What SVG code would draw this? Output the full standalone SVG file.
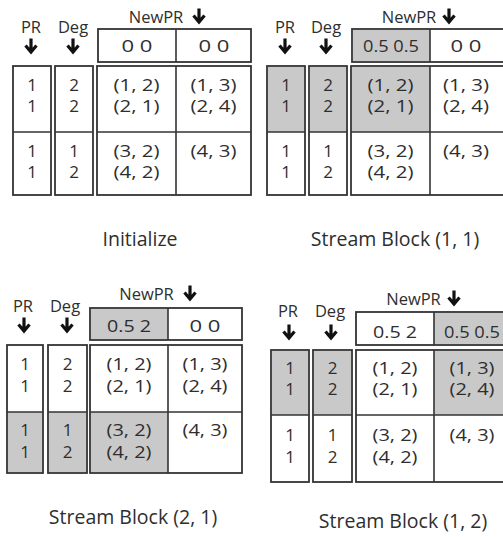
<svg xmlns="http://www.w3.org/2000/svg" xmlns:xlink="http://www.w3.org/1999/xlink" width="503" height="537" viewBox="0 0 503 537">
<style>
text{font-family:"Open Sans","Liberation Sans",sans-serif;fill:#2e2e2e;text-anchor:middle}
.lbl{font-size:16.5px}
.cell{font-size:17px}
.cap{font-size:19.5px}
.box{fill:#fff;stroke:#333;stroke-width:1.8}
.g{fill:#c9c9c9;stroke:none}
.div{stroke:#333;stroke-width:1.6;fill:none}
</style>
<defs>
<g id="arr"><path d="M0,-7.5V5.5M-5.5,-0.5L0,6L5.5,-0.5" fill="none" stroke="#111" stroke-width="3.2"/></g>
</defs>
<rect width="503" height="537" fill="#fff"/>

<g id="panel-initialize">
  <g id="p1-labels">
    <text class="lbl" x="31" y="33">PR</text><use xlink:href="#arr" x="31" y="46"/>
    <text class="lbl" x="73" y="33">Deg</text><use xlink:href="#arr" x="73" y="46"/>
    <text class="lbl" x="156" y="23">NewPR</text><use xlink:href="#arr" x="199" y="16"/>
  </g>
  <g id="p1-newpr">
    <rect class="box" x="98" y="29" width="153" height="33"/>
    <line class="div" x1="176" y1="29" x2="176" y2="62"/>
    <text class="cell" x="137" y="52" textLength="31" lengthAdjust="spacingAndGlyphs">0 0</text>
    <text class="cell" x="214" y="52" textLength="31" lengthAdjust="spacingAndGlyphs">0 0</text>
  </g>
  <g id="p1-pr">
    <rect class="box" x="13" y="66" width="38" height="129"/>
    <line class="div" x1="13" y1="132" x2="51" y2="132"/>
    <text class="cell" x="32" y="91">1</text><text class="cell" x="32" y="112">1</text>
    <text class="cell" x="32" y="157">1</text><text class="cell" x="32" y="178">1</text>
  </g>
  <g id="p1-deg">
    <rect class="box" x="55" y="66" width="38" height="129"/>
    <line class="div" x1="55" y1="132" x2="93" y2="132"/>
    <text class="cell" x="74" y="91">2</text><text class="cell" x="74" y="112">2</text>
    <text class="cell" x="74" y="157">1</text><text class="cell" x="74" y="178">2</text>
  </g>
  <g id="p1-edges">
    <rect class="box" x="97" y="66" width="154" height="129"/>
    <line class="div" x1="176" y1="66" x2="176" y2="195"/>
    <line class="div" x1="97" y1="132" x2="251" y2="132"/>
    <text class="cell" x="136.5" y="91" textLength="46" lengthAdjust="spacingAndGlyphs">(1, 2)</text>
    <text class="cell" x="136.5" y="112" textLength="46" lengthAdjust="spacingAndGlyphs">(2, 1)</text>
    <text class="cell" x="213.5" y="91" textLength="46" lengthAdjust="spacingAndGlyphs">(1, 3)</text>
    <text class="cell" x="213.5" y="112" textLength="46" lengthAdjust="spacingAndGlyphs">(2, 4)</text>
    <text class="cell" x="136.5" y="157" textLength="46" lengthAdjust="spacingAndGlyphs">(3, 2)</text>
    <text class="cell" x="136.5" y="178" textLength="46" lengthAdjust="spacingAndGlyphs">(4, 2)</text>
    <text class="cell" x="213.5" y="157" textLength="46" lengthAdjust="spacingAndGlyphs">(4, 3)</text>
  </g>
  <text class="cap" x="140" y="246">Initialize</text>
</g>

<g id="panel-block-1-1">
  <g id="p2-labels">
    <text class="lbl" x="285" y="33">PR</text><use xlink:href="#arr" x="285" y="46"/>
    <text class="lbl" x="326" y="33">Deg</text><use xlink:href="#arr" x="326" y="46"/>
    <text class="lbl" x="409" y="23">NewPR</text><use xlink:href="#arr" x="449" y="16"/>
  </g>
  <g id="p2-newpr">
    <rect class="box" x="352" y="29" width="156" height="33"/>
    <rect class="g" x="353" y="30" width="77" height="31"/>
    <line class="div" x1="430" y1="29" x2="430" y2="62"/>
    <text class="cell" x="391" y="52" textLength="56" lengthAdjust="spacingAndGlyphs">0.5 0.5</text>
    <text class="cell" x="466" y="52" textLength="31" lengthAdjust="spacingAndGlyphs">0 0</text>
  </g>
  <g id="p2-pr">
    <rect class="box" x="267" y="66" width="38" height="129"/>
    <rect class="g" x="268" y="67" width="36" height="65"/>
    <line class="div" x1="267" y1="132" x2="305" y2="132"/>
    <text class="cell" x="286" y="91">1</text><text class="cell" x="286" y="112">1</text>
    <text class="cell" x="286" y="157">1</text><text class="cell" x="286" y="178">1</text>
  </g>
  <g id="p2-deg">
    <rect class="box" x="309" y="66" width="38" height="129"/>
    <rect class="g" x="310" y="67" width="36" height="65"/>
    <line class="div" x1="309" y1="132" x2="347" y2="132"/>
    <text class="cell" x="328" y="91">2</text><text class="cell" x="328" y="112">2</text>
    <text class="cell" x="328" y="157">1</text><text class="cell" x="328" y="178">2</text>
  </g>
  <g id="p2-edges">
    <rect class="box" x="351" y="66" width="157" height="129"/>
    <rect class="g" x="352" y="67" width="78" height="65"/>
    <line class="div" x1="430" y1="66" x2="430" y2="195"/>
    <line class="div" x1="351" y1="132" x2="508" y2="132"/>
    <text class="cell" x="390.5" y="91" textLength="46" lengthAdjust="spacingAndGlyphs">(1, 2)</text>
    <text class="cell" x="390.5" y="112" textLength="46" lengthAdjust="spacingAndGlyphs">(2, 1)</text>
    <text class="cell" x="466" y="91" textLength="46" lengthAdjust="spacingAndGlyphs">(1, 3)</text>
    <text class="cell" x="466" y="112" textLength="46" lengthAdjust="spacingAndGlyphs">(2, 4)</text>
    <text class="cell" x="390.5" y="157" textLength="46" lengthAdjust="spacingAndGlyphs">(3, 2)</text>
    <text class="cell" x="390.5" y="178" textLength="46" lengthAdjust="spacingAndGlyphs">(4, 2)</text>
    <text class="cell" x="466" y="157" textLength="46" lengthAdjust="spacingAndGlyphs">(4, 3)</text>
  </g>
  <text class="cap" x="395" y="246">Stream Block (1, 1)</text>
</g>

<g id="panel-block-2-1">
  <g id="p3-labels">
    <text class="lbl" x="23" y="312">PR</text><use xlink:href="#arr" x="24" y="325"/>
    <text class="lbl" x="65" y="312">Deg</text><use xlink:href="#arr" x="67" y="325"/>
    <text class="lbl" x="146.5" y="300">NewPR</text><use xlink:href="#arr" x="190" y="293"/>
  </g>
  <g id="p3-newpr">
    <rect class="box" x="90" y="308" width="152" height="32"/>
    <rect class="g" x="91" y="309" width="77" height="30"/>
    <line class="div" x1="168" y1="308" x2="168" y2="340"/>
    <text class="cell" x="129" y="332" textLength="44" lengthAdjust="spacingAndGlyphs">0.5 2</text>
    <text class="cell" x="205" y="332" textLength="31" lengthAdjust="spacingAndGlyphs">0 0</text>
  </g>
  <g id="p3-pr">
    <rect class="box" x="7" y="345" width="36" height="128"/>
    <rect class="g" x="8" y="412" width="34" height="60"/>
    <line class="div" x1="7" y1="412" x2="43" y2="412"/>
    <text class="cell" x="25" y="370">1</text><text class="cell" x="25" y="392">1</text>
    <text class="cell" x="25" y="436">1</text><text class="cell" x="25" y="458">1</text>
  </g>
  <g id="p3-deg">
    <rect class="box" x="48" y="345" width="39" height="128"/>
    <rect class="g" x="49" y="412" width="37" height="60"/>
    <line class="div" x1="48" y1="412" x2="87" y2="412"/>
    <text class="cell" x="67.5" y="370">2</text><text class="cell" x="67.5" y="392">2</text>
    <text class="cell" x="67.5" y="436">1</text><text class="cell" x="67.5" y="458">2</text>
  </g>
  <g id="p3-edges">
    <rect class="box" x="90" y="345" width="152" height="128"/>
    <rect class="g" x="91" y="412" width="77" height="60"/>
    <line class="div" x1="168" y1="345" x2="168" y2="473"/>
    <line class="div" x1="90" y1="412" x2="242" y2="412"/>
    <text class="cell" x="129" y="370" textLength="45" lengthAdjust="spacingAndGlyphs">(1, 2)</text>
    <text class="cell" x="129" y="392" textLength="45" lengthAdjust="spacingAndGlyphs">(2, 1)</text>
    <text class="cell" x="205" y="370" textLength="45" lengthAdjust="spacingAndGlyphs">(1, 3)</text>
    <text class="cell" x="205" y="392" textLength="45" lengthAdjust="spacingAndGlyphs">(2, 4)</text>
    <text class="cell" x="129" y="436" textLength="45" lengthAdjust="spacingAndGlyphs">(3, 2)</text>
    <text class="cell" x="129" y="458" textLength="45" lengthAdjust="spacingAndGlyphs">(4, 2)</text>
    <text class="cell" x="205" y="436" textLength="45" lengthAdjust="spacingAndGlyphs">(4, 3)</text>
  </g>
  <text class="cap" x="133" y="524">Stream Block (2, 1)</text>
</g>

<g id="panel-block-1-2">
  <g id="p4-labels">
    <text class="lbl" x="288" y="317">PR</text><use xlink:href="#arr" x="289" y="332"/>
    <text class="lbl" x="330" y="317">Deg</text><use xlink:href="#arr" x="331" y="332"/>
    <text class="lbl" x="413.5" y="305">NewPR</text><use xlink:href="#arr" x="454" y="298"/>
  </g>
  <g id="p4-newpr">
    <rect class="box" x="356" y="312" width="160" height="33"/>
    <rect class="g" x="434" y="313" width="80" height="31"/>
    <line class="div" x1="434" y1="312" x2="434" y2="345"/>
    <text class="cell" x="395" y="338" textLength="44" lengthAdjust="spacingAndGlyphs">0.5 2</text>
    <text class="cell" x="472" y="338" textLength="56" lengthAdjust="spacingAndGlyphs">0.5 0.5</text>
  </g>
  <g id="p4-pr">
    <rect class="box" x="271" y="350" width="38" height="132"/>
    <rect class="g" x="272" y="351" width="36" height="64"/>
    <line class="div" x1="271" y1="415" x2="309" y2="415"/>
    <text class="cell" x="290" y="374">1</text><text class="cell" x="290" y="395">1</text>
    <text class="cell" x="290" y="441">1</text><text class="cell" x="290" y="463">1</text>
  </g>
  <g id="p4-deg">
    <rect class="box" x="313" y="350" width="39" height="132"/>
    <rect class="g" x="314" y="351" width="37" height="64"/>
    <line class="div" x1="313" y1="415" x2="352" y2="415"/>
    <text class="cell" x="332.5" y="374">2</text><text class="cell" x="332.5" y="395">2</text>
    <text class="cell" x="332.5" y="441">1</text><text class="cell" x="332.5" y="463">2</text>
  </g>
  <g id="p4-edges">
    <rect class="box" x="356" y="350" width="160" height="132"/>
    <rect class="g" x="434" y="351" width="80" height="64"/>
    <line class="div" x1="434" y1="350" x2="434" y2="482"/>
    <line class="div" x1="356" y1="415" x2="516" y2="415"/>
    <text class="cell" x="395" y="374" textLength="45" lengthAdjust="spacingAndGlyphs">(1, 2)</text>
    <text class="cell" x="395" y="395" textLength="45" lengthAdjust="spacingAndGlyphs">(2, 1)</text>
    <text class="cell" x="472" y="374" textLength="45" lengthAdjust="spacingAndGlyphs">(1, 3)</text>
    <text class="cell" x="472" y="395" textLength="45" lengthAdjust="spacingAndGlyphs">(2, 4)</text>
    <text class="cell" x="395" y="441" textLength="45" lengthAdjust="spacingAndGlyphs">(3, 2)</text>
    <text class="cell" x="395" y="463" textLength="45" lengthAdjust="spacingAndGlyphs">(4, 2)</text>
    <text class="cell" x="472" y="441" textLength="45" lengthAdjust="spacingAndGlyphs">(4, 3)</text>
  </g>
  <text class="cap" x="403" y="528">Stream Block (1, 2)</text>
</g>
</svg>
